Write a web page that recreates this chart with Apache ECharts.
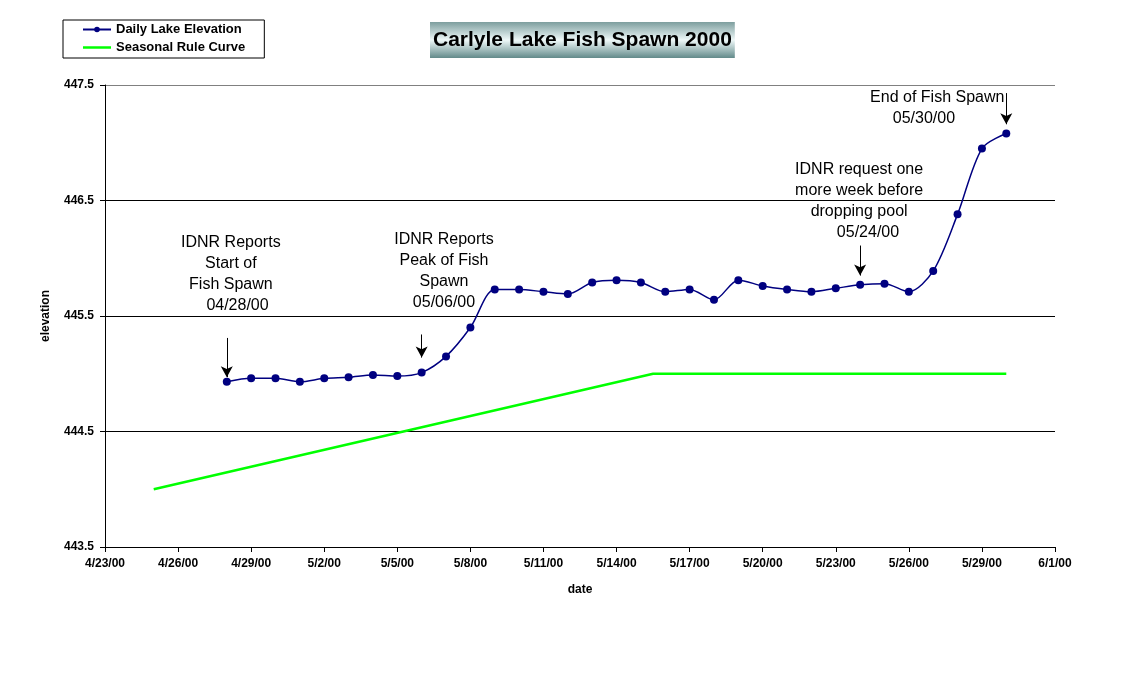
<!DOCTYPE html>
<html><head><meta charset="utf-8">
<script src="https://cdn.jsdelivr.net/npm/echarts@6/dist/echarts.min.js"></script>
<style>html,body{margin:0;padding:0;background:#fff}#c{width:1148px;height:687px}</style>
</head><body><div id="c"></div>
<script>
// ---- data ----
var elevDates = ['2000-04-28','2000-04-29','2000-04-30','2000-05-01','2000-05-02','2000-05-03','2000-05-04','2000-05-05','2000-05-06','2000-05-07','2000-05-08','2000-05-09','2000-05-10','2000-05-11','2000-05-12','2000-05-13','2000-05-14','2000-05-15','2000-05-16','2000-05-17','2000-05-18','2000-05-19','2000-05-20','2000-05-21','2000-05-22','2000-05-23','2000-05-24','2000-05-25','2000-05-26','2000-05-27','2000-05-28','2000-05-29','2000-05-30'];
var elevValues = [444.93,444.96,444.96,444.93,444.96,444.97,444.99,444.98,445.01,445.15,445.40,445.73,445.73,445.71,445.69,445.79,445.81,445.79,445.71,445.73,445.64,445.81,445.76,445.73,445.71,445.74,445.77,445.78,445.71,445.89,446.38,446.95,447.08];
var ruleDates = ['2000-04-25','2000-05-15T12:00','2000-05-30'];
var ruleValues = [444.0,445.0,445.0];
var axisStart = '2000-04-23';
var yTicks = [443.5,444.5,445.5,446.5,447.5];
var annotations = [
  {date:'2000-04-28T04:00', value:446.23, lines:['IDNR Reports','Start of','Fish Spawn','   04/28/00']},
  {date:'2000-05-06T22:00', value:446.25, lines:['IDNR Reports','Peak of Fish','Spawn','05/06/00']},
  {date:'2000-05-23T23:00', value:446.86, lines:['IDNR request one','more week before','dropping pool','    05/24/00']},
  {date:'2000-05-27T04:00', value:447.48, lines:['End of Fish Spawn','05/30/00      ']}
];
var arrows = [
  {date:'2000-04-28', from:445.31, to:444.97},
  {date:'2000-05-06', from:445.34, to:445.14},
  {date:'2000-05-24', from:446.11, to:445.85},
  {date:'2000-05-30', from:447.43, to:447.16}
];
// ---- helpers ----
function parseD(s){var p=s.split('T');var d=p[0].split('-');var h=0,m=0;if(p[1]){var t=p[1].split(':');h=+t[0];m=+t[1];}return Date.UTC(+d[0],+d[1]-1,+d[2],h,m);}
var DAY=86400000, t0=parseD(axisStart);
function dayIdx(s){return (parseD(s)-t0)/DAY;}
function fmtDay(v){var d=new Date(t0+v*DAY);return (d.getUTCMonth()+1)+'/'+d.getUTCDate()+'/00';}

var elevData = elevDates.map(function(d,i){return [dayIdx(d),elevValues[i]];});
var ruleData = ruleDates.map(function(d,i){return [dayIdx(d),ruleValues[i]];});
var arrowLines = arrows.map(function(a){var x=dayIdx(a.date);return [{coord:[x,a.from]},{coord:[x,a.to]}];});

var chart = echarts.init(document.getElementById('c'));
var font='Arial, "Liberation Sans", sans-serif';
chart.setOption({
  backgroundColor:'#fff',
  animation:false,
  title:{text:'Carlyle Lake Fish Spawn 2000',left:430,top:22,padding:[8,3,7,3],
    textStyle:{fontFamily:font,fontWeight:'bold',fontSize:21,color:'#000'},
    backgroundColor:new echarts.graphic.LinearGradient(0,0,0,1,[{offset:0,color:'#7d9e9e'},{offset:0.5,color:'#eef8f8'},{offset:1,color:'#628a8a'}])},
  legend:{left:63,top:20,orient:'vertical',padding:[3,19,4,19],itemGap:5,itemWidth:28,itemHeight:7,
    borderColor:'#000',borderWidth:1,borderRadius:0,
    textStyle:{fontFamily:font,fontWeight:'bold',fontSize:13,color:'#000'},
    data:[{name:'Daily Lake Elevation'},{name:'Seasonal Rule Curve',icon:'path://M0,0 L28,0 L28,2.5 L0,2.5 Z'}]},
  grid:{left:105,right:93,top:85,bottom:140},
  xAxis:{type:'value',min:0,max:39,interval:3,name:'date',nameLocation:'middle',nameGap:37,
    nameTextStyle:{fontFamily:font,fontWeight:'bold',fontSize:12,color:'#000'},
    axisLine:{lineStyle:{color:'#000',width:1}},axisTick:{show:true,length:5,lineStyle:{color:'#000'}},
    axisLabel:{formatter:fmtDay,fontFamily:font,fontWeight:'bold',fontSize:12,color:'#000',margin:11},
    splitLine:{show:false}},
  yAxis:{type:'value',min:yTicks[0],max:yTicks[yTicks.length-1],interval:1,name:'elevation',nameLocation:'middle',nameGap:53,nameRotate:90,
    nameTextStyle:{fontFamily:font,fontWeight:'bold',fontSize:12,color:'#000'},
    axisLine:{show:true,lineStyle:{color:'#000',width:1}},axisTick:{show:true,length:5,lineStyle:{color:'#000'}},
    axisLabel:{formatter:function(v){return v.toFixed(1);},fontFamily:font,fontWeight:'bold',fontSize:12,color:'#000',margin:11},
    splitLine:{show:true,lineStyle:{color:['#000','#000','#000','#000','#808080'],width:1}}},
  series:[
    {name:'Daily Lake Elevation',type:'line',data:elevData,smooth:0.3,symbol:'circle',symbolSize:8,
      itemStyle:{color:'#000080'},lineStyle:{color:'#000080',width:1.5},
      markLine:{silent:true,symbol:['none','arrow'],symbolSize:[9,11],label:{show:false},
        lineStyle:{color:'#000',width:1,type:'solid'},data:arrowLines}},
    {name:'Seasonal Rule Curve',type:'line',data:ruleData,smooth:false,symbol:'none',
      itemStyle:{color:'#00ff00'},lineStyle:{color:'#00ff00',width:2.5}}
  ]
});
var g=[];
annotations.forEach(function(a){
  var p=chart.convertToPixel({gridIndex:0},[dayIdx(a.date),a.value]);
  g.push({type:'text',x:p[0],y:p[1],style:{text:a.lines.join('\n'),fill:'#000',font:'16px '+font,align:'center',verticalAlign:'top',lineHeight:21}});
});
chart.setOption({graphic:g});
</script></body></html>
